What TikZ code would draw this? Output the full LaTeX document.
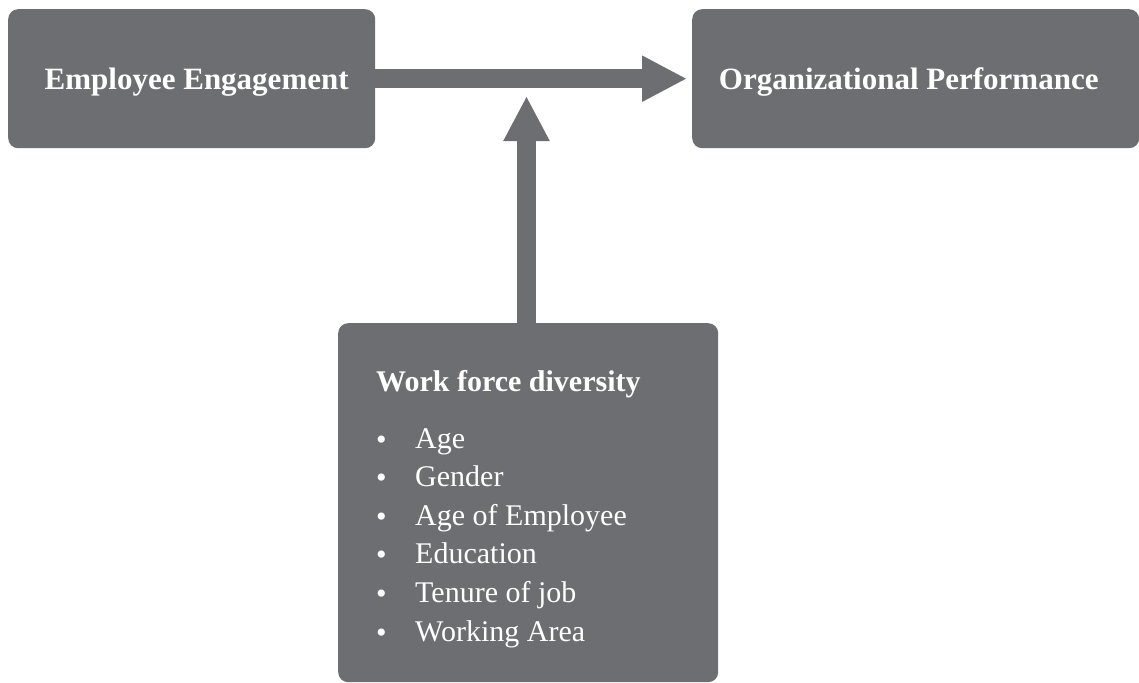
\documentclass[tikz,border=0pt]{standalone}
\usepackage{fontspec}
\setmainfont{Liberation Serif}
\usetikzlibrary{positioning,arrows.meta}
\definecolor{boxgrey}{RGB}{109,110,113}

\begin{document}
\begin{tikzpicture}[x=1pt, y=-1pt,
      box/.style={fill=boxgrey, rounded corners=10pt, text=white, inner sep=0pt, anchor=north west,
        text depth=0pt, font=\fontsize{31}{37}\selectfont\bfseries},
      flow/.style={draw=boxgrey, line width=19pt, -{Triangle[length=45pt, width=43pt]}},
      item/.style={text=white, inner sep=0pt, anchor=base west, font=\fontsize{30}{36}\selectfont},
      dot/.style={item, font=\fontsize{30}{36}\selectfont}]
  \useasboundingbox (0,0) rectangle (1139,682);
  % the three boxes
  \node[box, minimum width=367pt, minimum height=139pt] (ee) at (8,9) {\hspace*{10pt}Employee Engagement};
  \node[box, minimum width=447pt, minimum height=139pt] (op) at (692,9) {Organizational Performance\hspace*{14pt}};
  \node[box, minimum width=380pt, minimum height=359pt] (wfd) at (338,323) {};
  % list in the lower box
  \node[item, font=\fontsize{30}{36}\selectfont\bfseries] (title) at (376,391) {Work force diversity};
  \foreach \txt [count=\i from 0] in {Age, Gender, Age of Employee, Education, Tenure of job, Working Area} {
    \node[dot] (b\i) at (376,449+38.6*\i) {\textbullet};
    \node[item] (it\i) at (415,448+38.6*\i) {\txt};
  }
  % arrows
  \coordinate (hit) at (526.5,96);
  \draw[flow, shorten >=5pt] (ee) -- (op);
  \draw[flow] (wfd.north -| hit) -- (hit);
\end{tikzpicture}
\end{document}
